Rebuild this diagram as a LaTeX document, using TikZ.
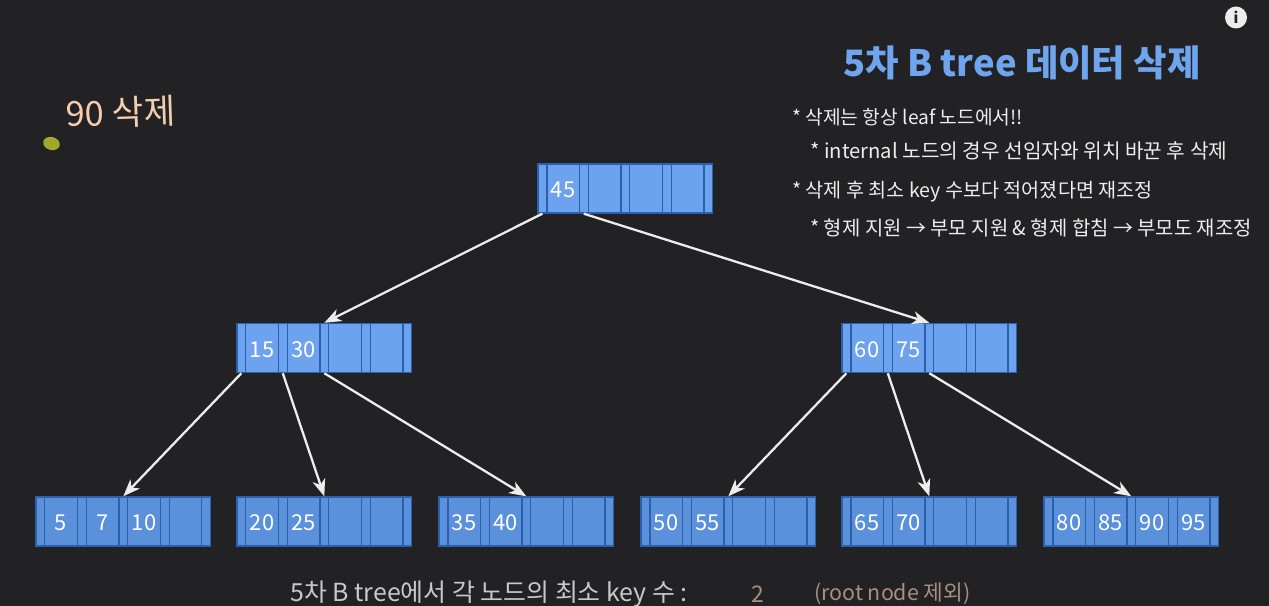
\documentclass[tikz,border=0pt]{standalone}
\usepackage{fontspec}
\setmainfont{Noto Sans CJK KR}
\usepackage{tikz}
\usetikzlibrary{arrows.meta,shapes.geometric}
\definecolor{bgdark}{HTML}{222123}
\definecolor{cellblue}{HTML}{6CA2EE}
\definecolor{leafblue}{HTML}{5B90DA}
\definecolor{edgeblue}{HTML}{2A60AE}
\definecolor{titleblue}{HTML}{6FA5EE}
\definecolor{peach}{HTML}{F3CDAE}
\definecolor{tan}{HTML}{A8907C}
\definecolor{softwhite}{HTML}{EDEDED}
\definecolor{dotgreen}{HTML}{A3A82A}
% x y name, then the four keys
\newcommand{\btnode}[8]{
  \node[btbox, fill=#4] (#3) at (#1+87.3, #2) {};
  \foreach \off/\idx in {4.4/0, 45.8/1, 87.3/2, 128.8/3, 170.2/4}
    \node[btptr, fill=#4] (#3-p\idx) at (#1+\off, #2) {};
  \node[btkey] (#3-k0) at (#1+25, #2+1.5) {#5};
  \node[btkey] (#3-k1) at (#1+66.5, #2+1.5) {#6};
  \node[btkey] (#3-k2) at (#1+108, #2+1.5) {#7};
  \node[btkey] (#3-k3) at (#1+149.5, #2+1.5) {#8};
}
\begin{document}
\begin{tikzpicture}[
    x=1bp, y=-1bp,
    btbox/.style={draw=edgeblue, line width=1.4pt, minimum width=174.6bp, minimum height=49bp, inner sep=0pt},
    btptr/.style={draw=edgeblue, line width=1.4pt, minimum width=8.8bp, minimum height=49bp, inner sep=0pt},
    btkey/.style={text=white, font=\fontsize{22}{24}\selectfont, inner sep=0pt},
    arr/.style={-{Stealth[length=17bp, width=13bp, inset=5bp]}, softwhite, line width=2.3pt},
    bullet/.style={anchor=west, inner sep=0pt, text=softwhite, font=\fontsize{20}{24}\selectfont},
  ]

  % background
  \path[fill=bgdark] (0,0) rectangle (1269,606);
  \useasboundingbox (0,0) rectangle (1269,606);

  % Root
  \btnode{538}{188.5}{root}{cellblue}{45}{}{}{}

  % Level 1
  \btnode{237}{348}{left}{cellblue}{15}{30}{}{}
  \btnode{842}{348}{right}{cellblue}{60}{75}{}{}

  % Leaves
  \btnode{36}{521.5}{leafA}{leafblue}{5}{7}{10}{}
  \btnode{237}{521.5}{leafB}{leafblue}{20}{25}{}{}
  \btnode{439}{521.5}{leafC}{leafblue}{35}{40}{}{}
  \btnode{641}{521.5}{leafD}{leafblue}{50}{55}{}{}
  \btnode{842}{521.5}{leafE}{leafblue}{65}{70}{}{}
  \btnode{1044}{521.5}{leafF}{leafblue}{80}{85}{90}{95}

  % Edges
  \draw[arr] (root-p0.south)  -- (left.north);
  \draw[arr] (root-p1.south)  -- (right.north);
  \draw[arr] (left-p0.south)  -- (leafA.north);
  \draw[arr] (left-p1.south)  -- (leafB.north);
  \draw[arr] (left-p2.south)  -- (leafC.north);
  \draw[arr] (right-p0.south) -- (leafD.north);
  \draw[arr] (right-p1.south) -- (leafE.north);
  \draw[arr] (right-p2.south) -- (leafF.north);

  % Texts
  \node[anchor=west, inner sep=0pt, text=titleblue, font=\fontsize{36.5}{40}\bfseries\selectfont] (title) at (843,63) {5차 B tree 데이터 삭제};
  \node[bullet, font=\fontsize{19.3}{24}\selectfont] (noteA) at (792,117) {* 삭제는 항상 leaf 노드에서!!};
  \node[bullet, font=\fontsize{20.3}{24}\selectfont] (noteB) at (810,151) {* internal 노드의 경우 선임자와 위치 바꾼 후 삭제};
  \node[bullet, font=\fontsize{19.7}{24}\selectfont] (noteC) at (792,192) {* 삭제 후 최소 key 수보다 적어졌다면 재조정};
  \node[bullet] (noteD) at (810,228) {* 형제 지원 → 부모 지원 \& 형제 합침 → 부모도 재조정};

  \node[anchor=west, inner sep=0pt, text=peach, font=\fontsize{34.5}{38}\selectfont, rotate=2] (target) at (66,114) {90 삭제};
  \node[ellipse, fill=dotgreen, minimum width=17bp, minimum height=13bp, inner sep=0pt, rotate=-15] (dot) at (51.5,143.5) {};

  \node[anchor=west, inner sep=0pt, text=softwhite!85!black, font=\fontsize{25}{28}\selectfont] (minkey) at (290,594.5) {5차 B tree에서 각 노드의 최소 key 수 :};
  \node[inner sep=0pt, text=tan, font=\fontsize{23}{26}\selectfont] (mintwo) at (758,594) {2};
  \node[anchor=west, inner sep=0pt, text=tan, font=\fontsize{21.5}{24}\selectfont] (minnote) at (814,594) {(root node 제외)};

  \node[circle, fill=softwhite, minimum size=22bp, inner sep=0pt, text=bgdark, font=\fontsize{15}{16}\bfseries\selectfont] (info) at (1236,17.5) {i};

\end{tikzpicture}
\end{document}
